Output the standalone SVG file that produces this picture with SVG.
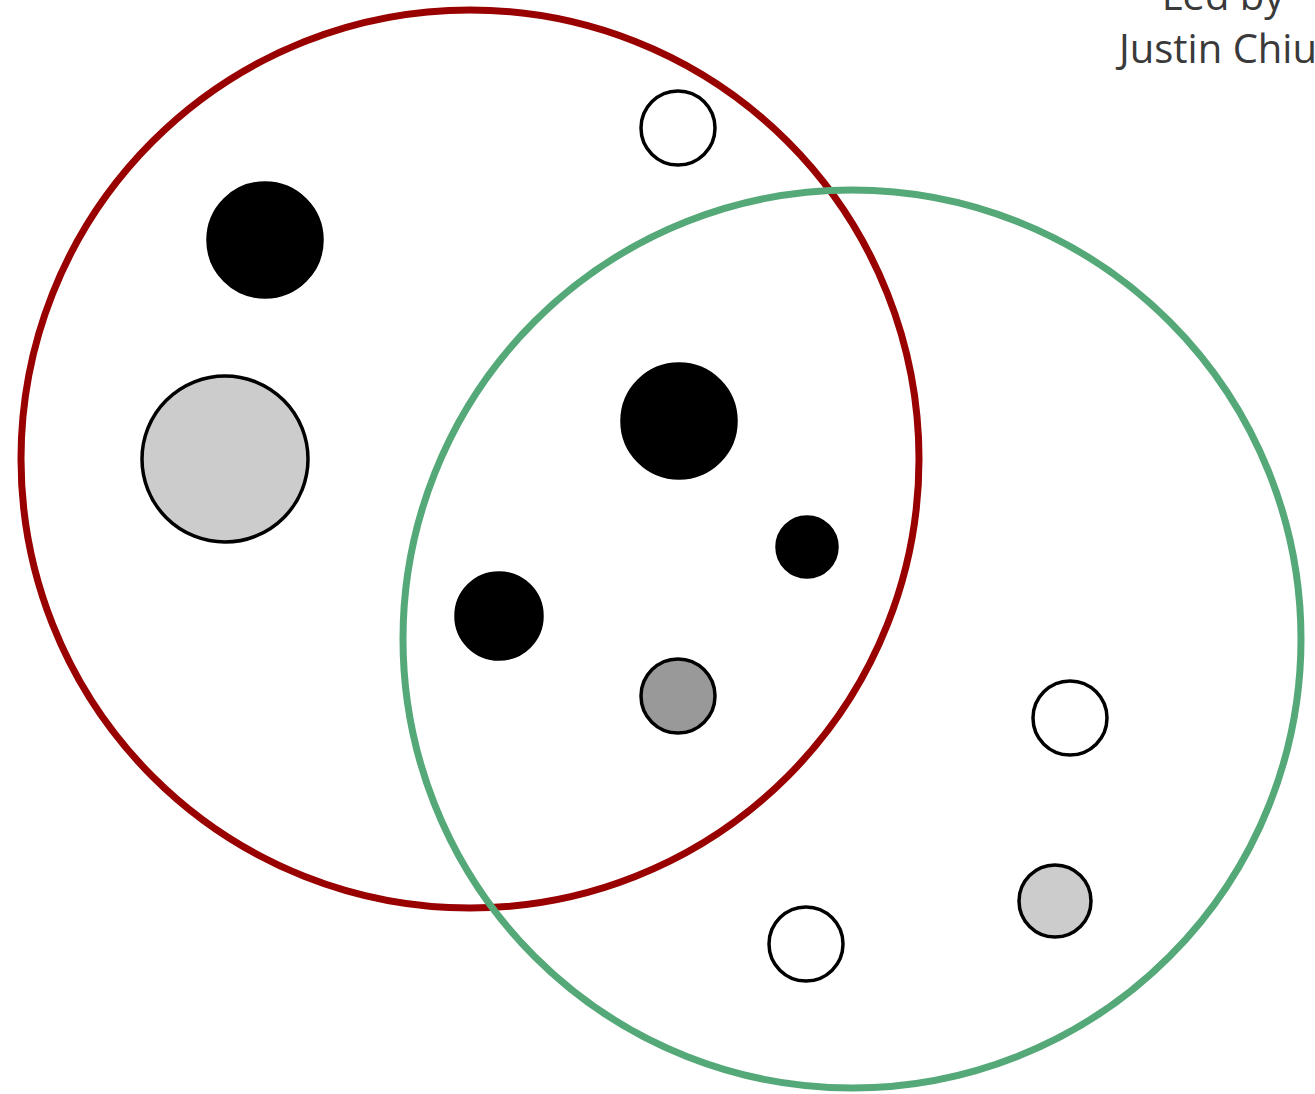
<svg xmlns="http://www.w3.org/2000/svg" width="1315" height="1094" viewBox="0 0 1315 1094">
<style>
.set{fill:none;stroke-width:7}
.dot{stroke:#000;stroke-width:3.5}
.lbl{font-family:"Open Sans","Liberation Sans",sans-serif;font-size:40px;fill:#3a3a3a;text-anchor:middle}
</style>
<rect width="1315" height="1094" fill="#fff"/>
<g id="label">
<text class="lbl" x="1223" y="10">Led by</text>
<text class="lbl" x="1218" y="63">Justin Chiu</text>
</g>
<g id="connectors"/>
<g id="set-red"><circle class="set" cx="470" cy="459" r="449" stroke="#990000"/></g>
<g id="set-green"><circle class="set" cx="852" cy="639" r="449" stroke="#55a878"/></g>
<g id="dots">
<circle id="d1" class="dot" cx="678" cy="128" r="37" fill="#fff"/>
<circle id="d2" class="dot" cx="265" cy="240" r="57" fill="#000"/>
<circle id="d3" class="dot" cx="225" cy="459" r="83" fill="#cccccc"/>
<circle id="d4" class="dot" cx="679" cy="421" r="57" fill="#000"/>
<circle id="d5" class="dot" cx="807" cy="547" r="30" fill="#000"/>
<circle id="d6" class="dot" cx="499" cy="616" r="43" fill="#000"/>
<circle id="d7" class="dot" cx="678" cy="696" r="37" fill="#999999"/>
<circle id="d8" class="dot" cx="1070" cy="718" r="37" fill="#fff"/>
<circle id="d9" class="dot" cx="1055" cy="901" r="36" fill="#cccccc"/>
<circle id="d10" class="dot" cx="806" cy="944" r="37" fill="#fff"/>
</g>
</svg>
